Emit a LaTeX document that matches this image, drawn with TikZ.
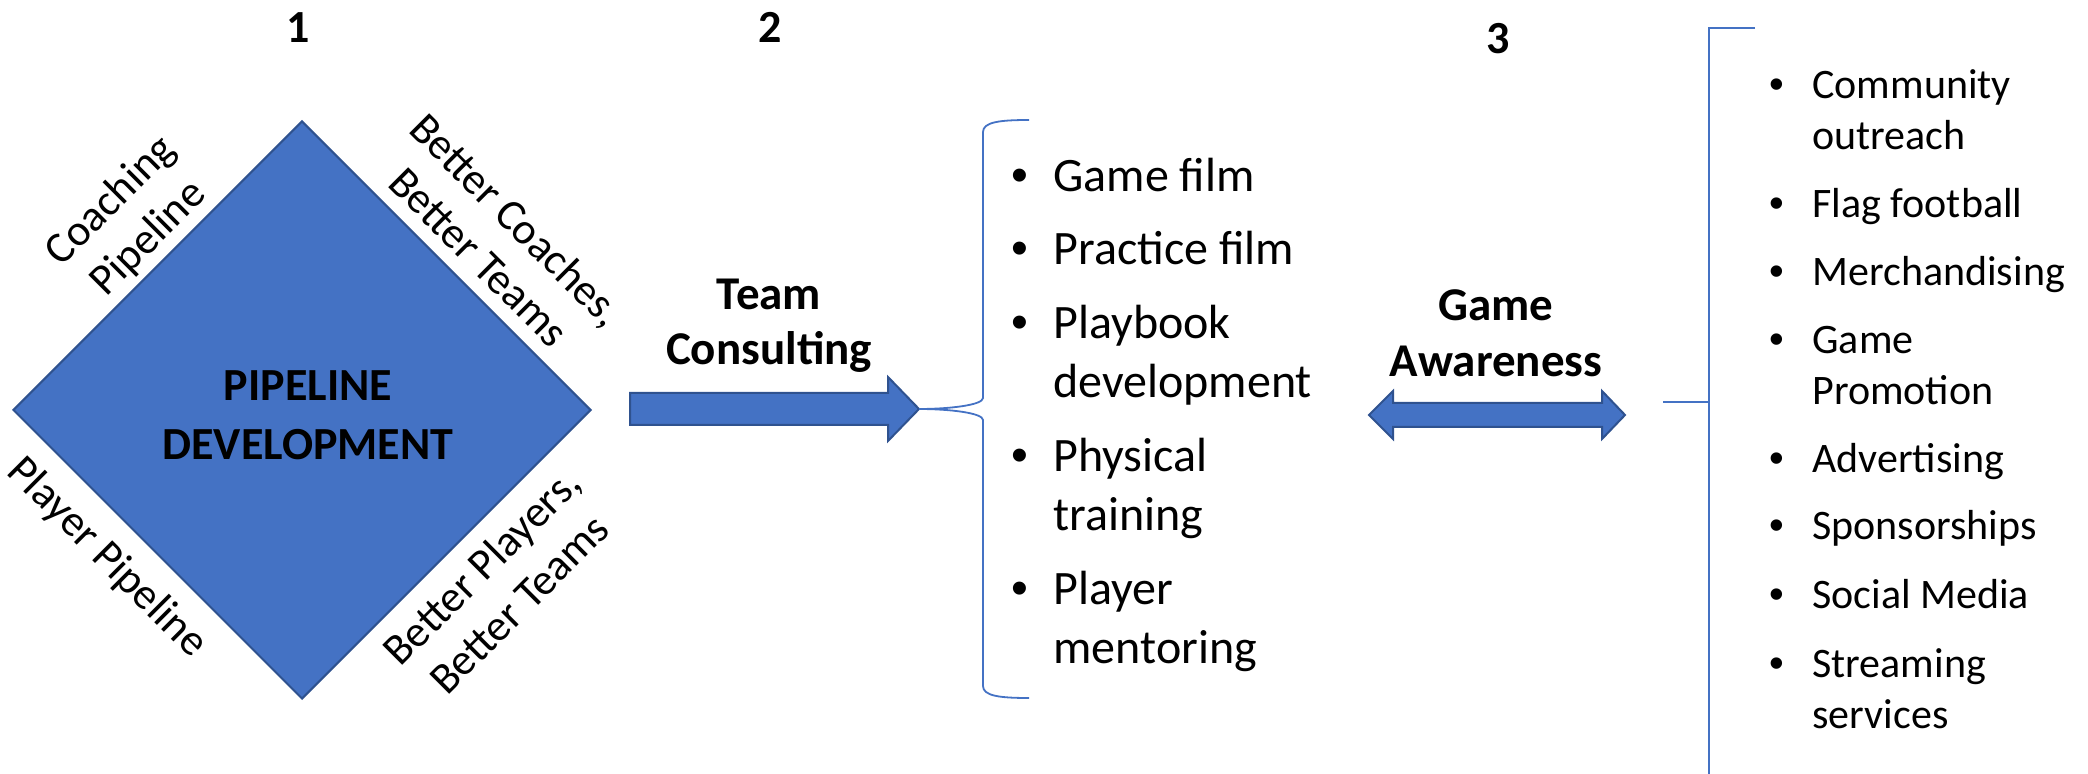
\documentclass[tikz,border=0pt]{standalone}
\usepackage{fontspec}
\setmainfont{Carlito}
\newfontfamily\bulfont{Liberation Sans}
\usetikzlibrary{shapes.geometric,calc}
\definecolor{fillblue}{HTML}{4472C4}
\definecolor{edgeblue}{HTML}{2F528F}
\begin{document}
\begin{tikzpicture}[x=0.5pt,y=-0.5pt,
  num/.style={font=\fontsize{23}{28}\selectfont\bfseries, anchor=base, inner sep=0pt},
  lbl/.style={font=\fontsize{23.5}{28}\selectfont\bfseries, anchor=base, inner sep=0pt},
  side/.style={font=\fontsize{22}{26.5}\selectfont, align=center, inner sep=0pt},
  itema/.style={font=\fontsize{24}{30}\selectfont, anchor=base west, inner sep=0pt},
  itemb/.style={font=\fontsize{21}{25.5}\selectfont, anchor=base west, inner sep=0pt},
  bula/.style={font=\bulfont\fontsize{24}{30}\selectfont, anchor=base, inner sep=0pt},
  bulb/.style={font=\bulfont\fontsize{21}{25.5}\selectfont, anchor=base, inner sep=0pt},
  blk/.style={fill=fillblue, draw=edgeblue, line width=1pt, line join=miter},
  brk/.style={draw=fillblue, line width=0.9pt}]
\useasboundingbox (0,0) rectangle (2088,774);

% numbers
\node[num] (n1) at (298,43) {1};
\node[num] (n2) at (770,43) {2};
\node[num] (n3) at (1498,54) {3};

% diamond
\node[diamond, aspect=1, minimum width=289pt, minimum height=289pt, inner sep=0pt, blk] (pd) at (302,410) {};
\node[lbl, font=\fontsize{23}{28}\selectfont\bfseries] (pd1) at (308,401) {PIPELINE};
\node[lbl, font=\fontsize{23}{28}\selectfont\bfseries] (pd2) at (308,460) {DEVELOPMENT};

% side labels
\node[side, rotate=45] (cp) at (130,220) {Coaching\\Pipeline};
\node[side, rotate=-45] (bc) at (498,238) {Better Coaches,\\Better Teams};
\node[side, rotate=-45] (pp) at (107,558) {Player Pipeline};
\node[side, rotate=45] (bp) at (500,585) {Better Players,\\Better Teams};

% arrow 1
\node[lbl] (tc1) at (769,310) {Team};
\node[lbl] (tc2) at (769,365) {Consulting};
\coordinate (a1s) at (630,409);
\coordinate (a1t) at (919,409);
\draw[blk] ($(a1s)+(0,-16)$) -- (888,393) -- (888,377) -- (a1t) -- (888,441) -- (888,425) -- ($(a1s)+(0,16)$) -- cycle;

% brace 2
\draw[brk] (1029,120) .. controls (1000,120) and (983,122) .. (983,132) -- (983,398)
  .. controls (983,405) and (950,409) .. (a1t)
  .. controls (950,409) and (983,413) .. (983,420) -- (983,686)
  .. controls (983,696) and (1000,698) .. (1029,698);

% list 2
\foreach \t/\yy/\b in {Game film/192/1, Practice film/265/1, Playbook/339/1, development/398/0, Physical/472/1, training/531/0, Player/604/1, mentoring/663/0}{
  \node[itema] at (1053,\yy) {\t};
  \ifnum\b=1 \node[bula] at (1020,\yy) {•};\fi
}

% arrow 2
\node[lbl] (ga1) at (1496,321) {Game};
\node[lbl] (ga2) at (1496,377) {Awareness};
\coordinate (a2l) at (1369,415);
\coordinate (a2r) at (1625,415);
\draw[blk] (a2l) -- (1393,391) -- (1393,403) -- (1602,403) -- (1602,391) -- (a2r) -- (1602,439) -- (1602,427) -- (1393,427) -- (1393,439) -- cycle;

% bracket 3
\coordinate (b3s) at (1663,402);
\coordinate (b3m) at (1709,402);
\draw[brk] (1755,28) -- (1709,28) -- (1709,774);
\draw[brk] (b3s) -- (b3m);

% list 3
\foreach \t/\yy/\b in {Community/99/1, outreach/150/0, Flag football/218/1, Merchandising/286/1, Game/354/1, Promotion/405/0, Advertising/473/1, Sponsorships/540/1, Social Media/609/1, Streaming/677/1, services/728/0}{
  \node[itemb] at (1812,\yy) {\t};
  \ifnum\b=1 \node[bulb] at (1777,\yy) {•};\fi
}
\end{tikzpicture}
\end{document}
